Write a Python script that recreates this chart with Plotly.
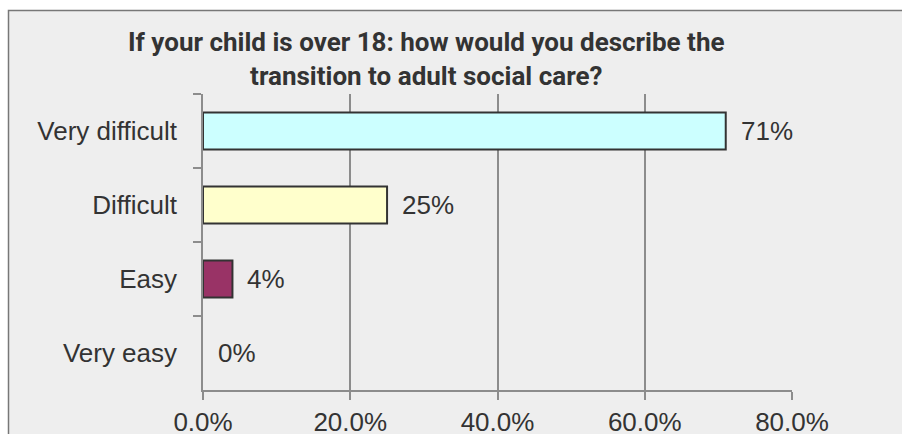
import plotly.graph_objects as go

# Survey responses
categories = ["Very difficult", "Difficult", "Easy", "Very easy"]
shares = [0.71, 0.25, 0.04, 0.00]
bar_colors = ["#CCFFFF", "#FFFFCC", "#993366", "#993366"]
title_lines = ["If your child is over 18: how would you describe the",
               "transition to adult social care?"]
x_ticks = [0.0, 0.2, 0.4, 0.6, 0.8]

W, H = 902, 434
L, R, T, B = 203, 110, 94, 44
pw, ph = W - L - R, H - T - B

def px_x(p):
    return (p - L) / pw

def px_y(p):
    return (H - B - p) / ph

text_col = "#333333"
grid_col = "#8c8c8c"
font_fam = "Liberation Sans, Arial, sans-serif"
title_fam = "Roboto, Liberation Sans, Arial, sans-serif"

# zero-length bars get no outline so nothing is drawn over the axis
outline_w = [2 if v > 0 else 0 for v in shares]

fig = go.Figure()
fig.add_trace(go.Bar(
    x=shares, y=categories, orientation="h", width=0.5,
    marker=dict(color=bar_colors, line=dict(color="#333333", width=outline_w)),
    hoverinfo="skip",
))

annotations = []
for c, v in zip(categories, shares):
    annotations.append(dict(
        x=v, y=c, xref="x", yref="y", text=f"{round(v * 100)}%",
        showarrow=False, xanchor="left", yanchor="middle", xshift=13,
        font=dict(family=font_fam, size=26, color=text_col),
    ))
annotations.append(dict(
    x=px_x(426), y=px_y(59), xref="paper", yref="paper",
    text="<br>".join(title_lines), showarrow=False,
    xanchor="center", yanchor="middle",
    font=dict(family=title_fam, size=26, color=text_col, weight="bold"),
))

fig.update_layout(
    width=W, height=H,
    margin=dict(l=L, r=R, t=T, b=B, pad=0, autoexpand=False),
    paper_bgcolor="white",
    plot_bgcolor="rgba(0,0,0,0)",
    showlegend=False,
    annotations=annotations,
    shapes=[dict(
        type="rect", xref="paper", yref="paper", layer="below",
        x0=px_x(8.5), x1=px_x(960), y0=px_y(480), y1=px_y(10.5),
        fillcolor="#eeeeee", line=dict(color="#777777", width=1.5),
    )],
    xaxis=dict(
        range=[0, 0.8], tickvals=x_ticks, tickformat=".1%",
        showgrid=True, gridcolor=grid_col, gridwidth=1.5,
        showline=True, linecolor=grid_col, linewidth=1.5,
        ticks="outside", ticklen=8, tickcolor=grid_col, tickwidth=1.5,
        zeroline=False, ticklabelstandoff=0, automargin=False,
        tickfont=dict(family=font_fam, size=26, color=text_col),
    ),
    yaxis=dict(
        categoryorder="array", categoryarray=categories,
        autorange="reversed", tickson="boundaries",
        showgrid=False, zeroline=False, automargin=False,
        showline=True, linecolor=grid_col, linewidth=1.5,
        ticks="outside", ticklen=8, tickcolor=grid_col, tickwidth=1.5,
        ticklabelstandoff=19,
        tickfont=dict(family=font_fam, size=26, color=text_col),
    ),
)

fig.write_html("out.html")
